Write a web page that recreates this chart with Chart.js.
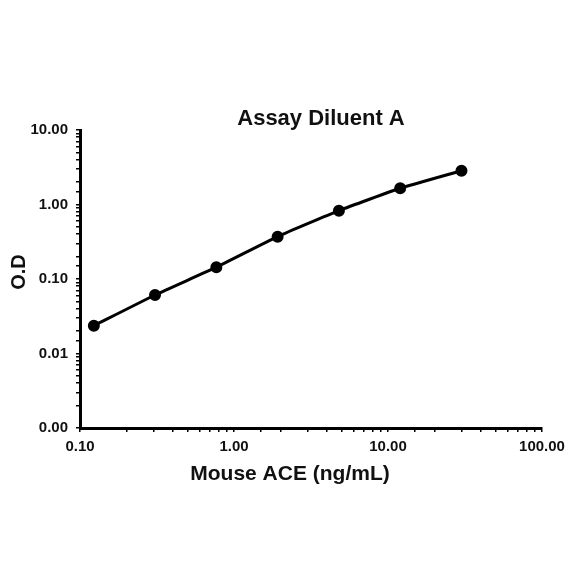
<!DOCTYPE html>
<html>
<head>
<meta charset="utf-8">
<script src="https://cdn.jsdelivr.net/npm/chart.js@4/dist/chart.umd.min.js"></script>
<style>
  html, body { margin: 0; padding: 0; background: #fff; }
  #wrap { width: 584px; height: 584px; }
</style>
</head>
<body>
<div id="wrap"><canvas id="c" width="584" height="584"></canvas></div>
<script>
// concentration (ng/mL), 2.5 fold dilutions
var conc = [0.123, 0.307, 0.768, 1.92, 4.8, 12, 30];
// optical density
var od = [0.0236, 0.061, 0.144, 0.37, 0.826, 1.65, 2.84];
var xTicks = [0.1, 1, 10, 100];
var yTicks = [0.001, 0.01, 0.1, 1, 10];
var chartTitle = "Assay Diluent A";
var xTitle = "Mouse ACE (ng/mL)";
var yTitle = "O.D";

var FONT = "'Liberation Sans', Arial, sans-serif";

function isMajor(v, list) {
   for (var i = 0; i < list.length; i++) {
      if (Math.abs(v - list[i]) / list[i] < 1e-6) return true;
   }
   return false;
}

// titles drawn around the plot area
var textPlugin = {
   id: "texts",
   afterDraw: function (chart) {
      var ctx = chart.ctx, a = chart.chartArea;
      ctx.save();
      ctx.fillStyle = "#111";
      ctx.textAlign = "center";
      ctx.textBaseline = "middle";
      ctx.font = "bold 22px " + FONT;
      ctx.fillText(chartTitle, a.left + 241, a.top - 11);
      ctx.font = "bold 21px " + FONT;
      ctx.fillText(xTitle, a.left + 210, a.bottom + 46);
      ctx.translate(19, (a.top + a.bottom) / 2 - 7);
      ctx.rotate(-Math.PI / 2);
      ctx.font = "bold 20px " + FONT;
      ctx.fillText(yTitle, 0, 0);
      ctx.restore();
   }
};

var points = [];
for (var i = 0; i < conc.length; i++) {
   points.push({ x: conc[i], y: od[i] });
}

new Chart(document.getElementById("c"), {
   type: "line",
   data: {
      datasets: [{
         data: points,
         borderColor: "#000",
         backgroundColor: "#000",
         borderWidth: 3,
         pointRadius: 4.5,
         pointHoverRadius: 4.5,
         pointBackgroundColor: "#000",
         pointBorderColor: "#000",
         tension: 0.15,
         fill: false
      }]
   },
   options: {
      responsive: false,
      animation: false,
      events: [],
      layout: { padding: { left: 0, top: 130, right: 42, bottom: 0 } },
      plugins: {
         legend: { display: false },
         tooltip: { enabled: false },
         title: { display: false }
      },
      scales: {
         x: {
            type: "logarithmic",
            min: 0.1,
            max: 100,
            afterFit: function (s) { s.height = 156; },
            border: { display: true, color: "#000", width: 3 },
            grid: { display: true, drawOnChartArea: false, color: "#000", tickLength: 4, lineWidth: 1.5 },
            ticks: {
               autoSkip: false,
               maxRotation: 0,
               padding: 6,
               color: "#111",
               font: { family: FONT, size: 15, weight: "bold" },
               callback: function (v) { return isMajor(v, xTicks) ? v.toFixed(2) : ""; }
            }
         },
         y: {
            type: "logarithmic",
            min: 0.001,
            max: 10,
            afterFit: function (s) { s.width = 80; },
            border: { display: true, color: "#000", width: 3 },
            grid: { display: true, drawOnChartArea: false, color: "#000", tickLength: 4, lineWidth: 1.5 },
            ticks: {
               autoSkip: false,
               padding: 8,
               color: "#111",
               font: { family: FONT, size: 15, weight: "bold" },
               callback: function (v) { return isMajor(v, yTicks) ? v.toFixed(2) : ""; }
            }
         }
      }
   },
   plugins: [textPlugin]
});
</script>
</body>
</html>
